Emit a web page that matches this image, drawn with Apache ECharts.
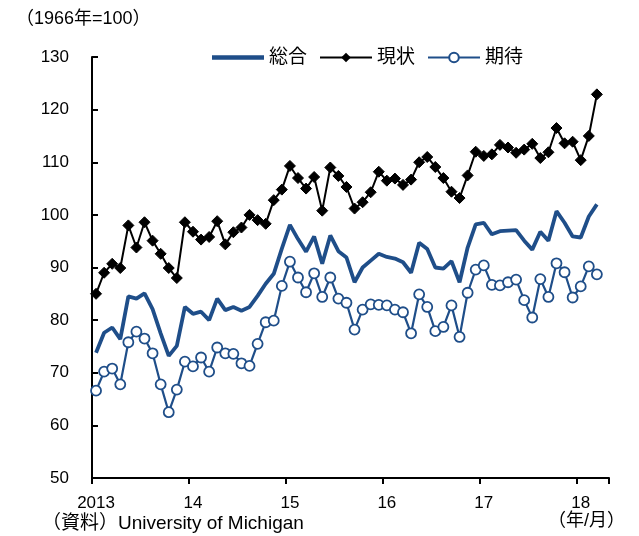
<!DOCTYPE html>
<html>
<head>
<meta charset="utf-8">
<script src="https://cdn.jsdelivr.net/npm/echarts@6/dist/echarts.min.js"></script>
<style>
html,body{margin:0;padding:0;background:#fff;}
#chart{width:639px;height:536px;}
</style>
</head>
<body>
<div id="chart"></div>
<script>
// Monthly, 2013/1 - 2018/3 (plus one empty slot at the right end of the axis)
const startYear = 2013;
const monthCount = 64;
const yearTickLabels = ['2013', '14', '15', '16', '17', '18'];
const seriesNames = ['総合', '現状', '期待'];

const sogo = [
  73.8, 77.6, 78.6, 76.4, 84.5, 84.1, 85.1, 82.1, 77.5, 73.2, 75.1, 82.5,
  81.2, 81.6, 80.0, 84.1, 81.9, 82.5, 81.8, 82.5, 84.6, 86.9, 88.8, 93.6,
  98.1, 95.4, 93.0, 95.9, 90.7, 96.1, 93.1, 91.9, 87.2, 90.0, 91.3, 92.6,
  92.0, 91.7, 91.0, 89.0, 94.7, 93.5, 90.0, 89.8, 91.2, 87.2, 93.8, 98.2,
  98.5, 96.3, 96.9, 97.0, 97.1, 95.1, 93.4, 96.8, 95.1, 100.7, 98.5, 95.9,
  95.7, 99.7, 102.0
];
const genjo = [
  85.0, 89.0, 90.7, 89.9, 98.0, 93.8, 98.6, 95.1, 92.6, 89.9, 88.0, 98.6,
  96.8, 95.3, 95.8, 98.8, 94.4, 96.7, 97.6, 100.0, 99.0, 98.3, 102.8, 104.8,
  109.3, 107.0, 105.0, 107.2, 100.8, 109.0, 107.4, 105.3, 101.2, 102.4, 104.3, 108.2,
  106.5, 106.9, 105.7, 106.7, 110.0, 111.0, 109.1, 107.0, 104.4, 103.2, 107.5, 112.0,
  111.2, 111.5, 113.3, 112.8, 111.8, 112.4, 113.5, 110.8, 111.9, 116.5, 113.6, 113.9,
  110.4, 115.0, 122.9
];
const kitai = [
  66.6, 70.2, 70.8, 67.8, 75.8, 77.8, 76.5, 73.7, 67.8, 62.5, 66.8, 72.1,
  71.2, 72.9, 70.2, 74.8, 73.7, 73.6, 71.8, 71.3, 75.5, 79.6, 79.9, 86.5,
  91.1, 88.1, 85.3, 88.9, 84.4, 88.1, 84.1, 83.3, 78.2, 82.0, 83.0, 82.9,
  82.8, 82.0, 81.5, 77.5, 84.9, 82.5, 77.9, 78.7, 82.8, 76.8, 85.2, 89.6,
  90.4, 86.7, 86.6, 87.2, 87.7, 83.8, 80.5, 87.8, 84.4, 90.8, 89.1, 84.3,
  86.4, 90.2, 88.7
];

const months = [];
for (let i = 0; i < monthCount; i++) {
  months.push((startYear + Math.floor(i / 12)) + '/' + (i % 12 + 1));
}

const BLUE = '#1f4e89';
const FONT = "'Liberation Sans', 'Noto Sans CJK JP', sans-serif";

const chart = echarts.init(document.getElementById('chart'), null, {renderer: 'canvas'});
chart.setOption({
  animation: false,
  backgroundColor: '#ffffff',
  textStyle: {fontFamily: FONT},
  grid: {left: 92, right: 30, top: 57, bottom: 58, containLabel: false},
  legend: {
    left: 207,
    top: 43,
    itemWidth: 52,
    itemHeight: 12,
    itemGap: 12,
    textStyle: {fontFamily: FONT, fontSize: 19, color: '#000'},
    data: [
      {name: seriesNames[0], icon: 'path://M0,0H60V5H0Z', itemStyle: {color: BLUE}},
      {name: seriesNames[1]},
      {name: seriesNames[2]}
    ]
  },
  xAxis: {
    type: 'category',
    data: months,
    boundaryGap: true,
    axisLine: {show: true, lineStyle: {color: '#000', width: 2}},
    axisTick: {
      show: true, inside: false, length: 6,
      interval: function (i) { return i % 12 === 0; },
      lineStyle: {color: '#000', width: 2}
    },
    axisLabel: {
      interval: function (i) { return i % 12 === 0; },
      formatter: function (v, i) { return yearTickLabels[Math.floor(i / 12)] || ''; },
      color: '#000', fontSize: 17, margin: 17, fontFamily: FONT
    },
    splitLine: {show: false}
  },
  yAxis: {
    type: 'value',
    min: 50, max: 130, interval: 10,
    axisLine: {show: true, lineStyle: {color: '#000', width: 2}},
    axisTick: {show: true, inside: true, length: 6, lineStyle: {color: '#000', width: 2}},
    axisLabel: {color: '#000', fontSize: 17, margin: 23, fontFamily: FONT},
    splitLine: {show: false}
  },
  graphic: [
    {type: 'text', left: 16, top: 10, style: {text: '（1966年=100）', font: '18px ' + FONT, fill: '#000'}},
    {type: 'text', left: 42, top: 514, style: {text: '（資料）University of Michigan', font: '19px ' + FONT, fill: '#000'}},
    {type: 'text', right: 14, top: 512, style: {text: '（年/月）', font: '18px ' + FONT, fill: '#000'}}
  ],
  series: [
    {
      name: seriesNames[0], type: 'line', data: sogo,
      symbol: 'none', showSymbol: false,
      lineStyle: {color: BLUE, width: 3.8},
      itemStyle: {color: BLUE},
      z: 2
    },
    {
      name: seriesNames[1], type: 'line', data: genjo,
      symbol: 'diamond', symbolSize: 11, showAllSymbol: true,
      lineStyle: {color: '#000', width: 2},
      itemStyle: {color: '#000', borderColor: '#000'},
      z: 3
    },
    {
      name: seriesNames[2], type: 'line', data: kitai,
      symbol: 'circle', symbolSize: 10, showAllSymbol: true,
      lineStyle: {color: BLUE, width: 2.2},
      itemStyle: {color: '#fff', borderColor: BLUE, borderWidth: 1.8},
      z: 4
    }
  ]
});
</script>
</body>
</html>
